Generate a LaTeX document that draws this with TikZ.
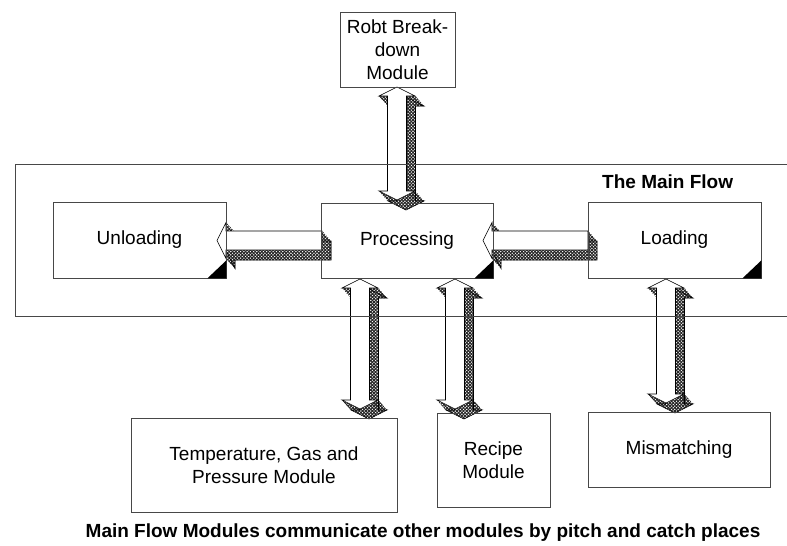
\documentclass[tikz,border=0pt]{standalone}
\usepackage{fontspec}
\setmainfont{Liberation Sans}
\usetikzlibrary{patterns.meta}

\tikzset{
  box/.style={draw=black!72, line width=0.75pt, align=center, inner sep=0pt,
    font=\fontsize{19}{23}\selectfont},
  frameline/.style={draw=black!72, line width=0.75pt},
  hatchfill/.style={pattern={Hatch[angle=45,distance=2.3pt,line width=0.7pt]}, pattern color=black!85},
  edgeline/.style={draw=black, line width=0.6pt, line join=miter},
  face/.style={fill=white, draw=black, line width=0.6pt, line join=miter},
  corner/.style={fill=black},
  label/.style={inner sep=0pt, font=\bfseries\fontsize{19}{23}\selectfont},
}

% depth of the extruded block arrows
\newcommand\arrdx{9}
\newcommand\arrdy{10}

% 3-D block arrow: #1/#2 first vertex, #3 remaining vertices as x/y list
\newcommand\blockarrow[3]{%
  \foreach \x/\y [remember=\x as \px (initially #1), remember=\y as \py (initially #2)] in {#3,#1/#2}
    {\fill[hatchfill] (\px,\py) -- (\x,\y) -- (\x+\arrdx,\y+\arrdy) -- (\px+\arrdx,\py+\arrdy) -- cycle;}
  \fill[hatchfill] (#1+\arrdx,#2+\arrdy) \foreach \x/\y in {#3} {-- (\x+\arrdx,\y+\arrdy)} -- cycle;
  \draw[edgeline] (#1+\arrdx,#2+\arrdy) \foreach \x/\y in {#3} {-- (\x+\arrdx,\y+\arrdy)} -- cycle;
  \filldraw[face] (#1,#2) \foreach \x/\y in {#3} {-- (\x,\y)} -- cycle;
}

% left-pointing arrow: tip x, tail x, centre y
\newcommand\harrow[3]{%
  \blockarrow{#1}{#3}{#1+9/#3-18, #1+9/#3-9.5, #2/#3-9.5, #2/#3+9.5, #1+9/#3+9.5, #1+9/#3+18}}

% vertical double arrow: centre x, top tip y, bottom tip y
\newcommand\varrow[3]{%
  \blockarrow{#1}{#2}{#1+18/#2+9, #1+9.5/#2+9, #1+9.5/#3-9, #1+18/#3-9, #1/#3,
    #1-18/#3-9, #1-9.5/#3-9, #1-9.5/#2+9, #1-18/#2+9}}

\begin{document}
\begin{tikzpicture}[x=1pt, y=-1pt]
  \useasboundingbox (0,0) rectangle (787,546);

  % pitch-and-catch arrows
  \harrow{217}{322}{240.5}
  \harrow{483}{588}{240.5}
  \varrow{397}{87}{200}
  \varrow{360}{279}{409}
  \varrow{455}{279}{409}
  \varrow{666}{279}{403}

  % main flow frame
  \draw[frameline] (800,164) -- (15,164) -- (15,316) -- (800,316);

  % modules
  \node[box, minimum width=115pt, minimum height=75pt] (robt) at (397.5,49.5) {Robt Break-\\down\\Module};
  \node[box, minimum width=173pt, minimum height=76pt] (unload) at (139.5,240) {Unloading};
  \node[box, minimum width=172pt, minimum height=75pt] (proc) at (407,240.5) {Processing};
  \node[box, minimum width=173pt, minimum height=76pt] (load) at (674.5,240) {Loading};
  \node[box, minimum width=266pt, minimum height=94pt] (temp) at (264,465) {Temperature, Gas and\\Pressure Module};
  \node[box, minimum width=113pt, minimum height=94pt] (recipe) at (493.5,460) {Recipe\\Module};
  \node[box, minimum width=182pt, minimum height=75pt] (mis) at (679,449.5) {Mismatching};

  % corner marks of the main flow stations
  \foreach \n in {unload, proc, load}
    \fill[corner] (\n.south east) -- ++(-19,0) -- ++(19,-18) -- cycle;

  \node[label, anchor=base west] (title) at (602,188) {The Main Flow};
  \node[label, anchor=base] (caption) at (423,537)
    {Main Flow Modules communicate other modules by pitch and catch places};
\end{tikzpicture}
\end{document}
